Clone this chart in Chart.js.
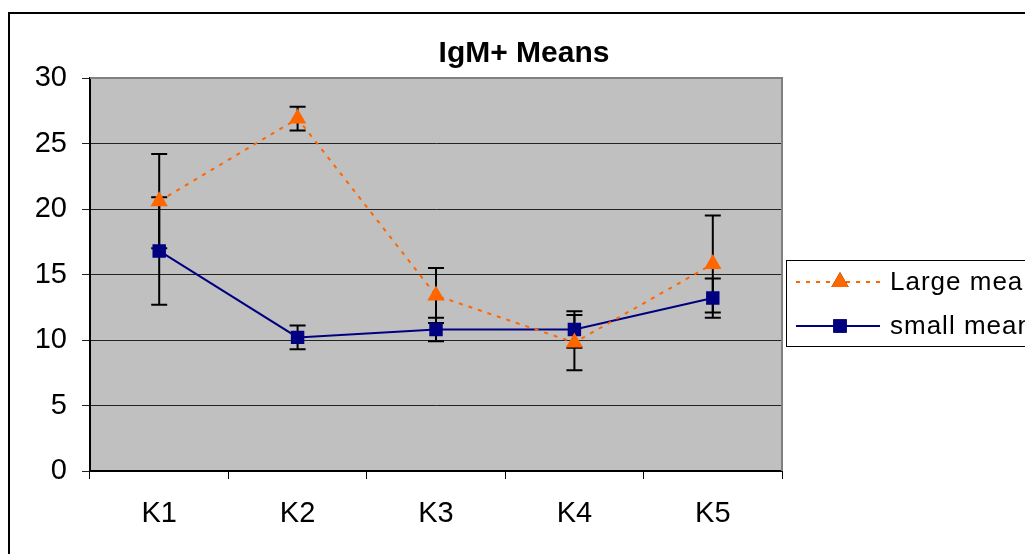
<!DOCTYPE html>
<html>
<head>
<meta charset="utf-8">
<script src="https://cdn.jsdelivr.net/npm/chart.js@4/dist/chart.umd.min.js"></script>
<style>
  html, body { margin: 0; padding: 0; background: #fff; }
  canvas { display: block; }
</style>
</head>
<body>
<canvas id="chart" width="1025" height="554"></canvas>
<script>
const categories = ["K1", "K2", "K3", "K4", "K5"];
const largeMean = [20.6, 26.9, 13.4, 9.8, 15.8];
const largeErr = [3.6, 0.9, 2.1, 2.1, 3.7];
const smallMean = [16.8, 10.2, 10.8, 10.8, 13.2];
const smallErr = [4.1, 0.9, 0.9, 1.4, 1.5];
const yTicks = [0, 5, 10, 15, 20, 25, 30];

const FONT = '"Liberation Sans", Arial, sans-serif';

// error bars drawn under the lines, through the chart's own scales
const errorBars = {
  id: "errorBars",
  beforeDatasetsDraw(chart) {
    const { ctx, scales: { x, y } } = chart;
    ctx.save();
    ctx.strokeStyle = "#000";
    ctx.lineWidth = 2;
    chart.data.datasets.forEach((ds) => {
      ds.data.forEach((v, i) => {
        const px = x.getPixelForValue(i);
        const top = y.getPixelForValue(v + ds.err[i]);
        const bot = y.getPixelForValue(v - ds.err[i]);
        ctx.beginPath();
        ctx.moveTo(px, top); ctx.lineTo(px, bot);
        ctx.moveTo(px - 8, top); ctx.lineTo(px + 8, top);
        ctx.moveTo(px - 8, bot); ctx.lineTo(px + 8, bot);
        ctx.stroke();
      });
    });
    ctx.restore();
  },
};

const frame = {
  id: "frame",
  beforeDraw(chart) {
    const { ctx, chartArea: a } = chart;
    ctx.save();
    ctx.fillStyle = "#fff";
    ctx.fillRect(0, 0, chart.width, chart.height);
    ctx.strokeStyle = "#000";
    ctx.lineWidth = 2;
    ctx.strokeRect(9, 13, 1100, 600);
    ctx.fillStyle = "#c0c0c0";
    ctx.fillRect(a.left, a.top, a.right - a.left, a.bottom - a.top);
    ctx.restore();
  },
  afterDraw(chart) {
    const { ctx, chartArea: a } = chart;
    ctx.save();
    // grey plot border top/right
    ctx.strokeStyle = "#808080";
    ctx.lineWidth = 2;
    ctx.beginPath();
    ctx.moveTo(a.left, a.top);
    ctx.lineTo(a.right, a.top);
    ctx.lineTo(a.right, a.bottom);
    ctx.stroke();

    // title
    ctx.fillStyle = "#000";
    ctx.font = "bold 30px " + FONT;
    ctx.textAlign = "center";
    ctx.textBaseline = "alphabetic";
    ctx.fillText("IgM+ Means", 524, 62);

    // legend
    ctx.strokeStyle = "#000";
    ctx.lineWidth = 1;
    ctx.strokeRect(786.5, 260.5, 300, 86);
    const rows = [282, 326];
    chart.data.datasets.forEach((ds, i) => {
      const yy = rows[i];
      ctx.save();
      ctx.strokeStyle = ds.borderColor;
      ctx.lineWidth = ds.borderWidth;
      ctx.setLineDash(ds.borderDash || []);
      ctx.beginPath();
      ctx.moveTo(796, yy);
      ctx.lineTo(880, yy);
      ctx.stroke();
      ctx.restore();
      Chart.helpers.drawPoint(ctx, {
        pointStyle: ds.pointStyle,
        radius: ds.pointRadius,
        borderWidth: 0,
      }, 840, yy);
      ctx.fillStyle = ds.pointBackgroundColor;
      ctx.fill();
      ctx.fillStyle = "#000";
      ctx.font = "26px " + FONT;
      ctx.letterSpacing = "1px";
      ctx.textAlign = "left";
      ctx.textBaseline = "middle";
      ctx.fillText(ds.label, 890, yy + 1);
      ctx.letterSpacing = "0px";
    });
    ctx.restore();
  },
};

new Chart(document.getElementById("chart"), {
  type: "line",
  data: {
    labels: categories,
    datasets: [
      {
        label: "Large mean",
        data: largeMean,
        err: largeErr,
        borderColor: "#ff6600",
        borderWidth: 2,
        borderDash: [4, 6],
        pointStyle: "triangle",
        pointRadius: 10,
        pointBackgroundColor: "#ff6600",
        pointBorderColor: "#ff6600",
        pointBorderWidth: 0,
        tension: 0,
      },
      {
        label: "small mean",
        data: smallMean,
        err: smallErr,
        borderColor: "#000080",
        borderWidth: 2,
        pointStyle: "rect",
        pointRadius: 9.5,
        pointBackgroundColor: "#000080",
        pointBorderColor: "#000080",
        pointBorderWidth: 0,
        tension: 0,
      },
    ],
  },
  options: {
    responsive: false,
    animation: false,
    layout: { padding: { left: 0, top: 78, right: 243, bottom: 0 } },
    plugins: {
      legend: { display: false },
      title: { display: false },
      tooltip: { enabled: false },
    },
    scales: {
      x: {
        offset: true,
        afterFit: (s) => { s.height = 83; },
        grid: {
          offset: true,
          drawOnChartArea: false,
          drawTicks: true,
          tickLength: 8,
          color: "#000",
          lineWidth: 1,
        },
        border: { color: "#000", width: 2 },
        ticks: {
          color: "#000",
          padding: 18,
          font: { family: FONT, size: 29 },
          maxRotation: 0,
        },
      },
      y: {
        min: 0,
        max: 30,
        afterFit: (s) => { s.width = 90; },
        afterBuildTicks: (s) => { s.ticks = yTicks.map((v) => ({ value: v })); },
        grid: {
          color: "#222",
          lineWidth: 1,
          tickLength: 8,
          drawTicks: true,
        },
        border: { color: "#000", width: 2 },
        ticks: {
          color: "#000",
          padding: 15,
          font: { family: FONT, size: 29 },
        },
      },
    },
  },
  plugins: [frame, errorBars],
});
</script>
</body>
</html>
